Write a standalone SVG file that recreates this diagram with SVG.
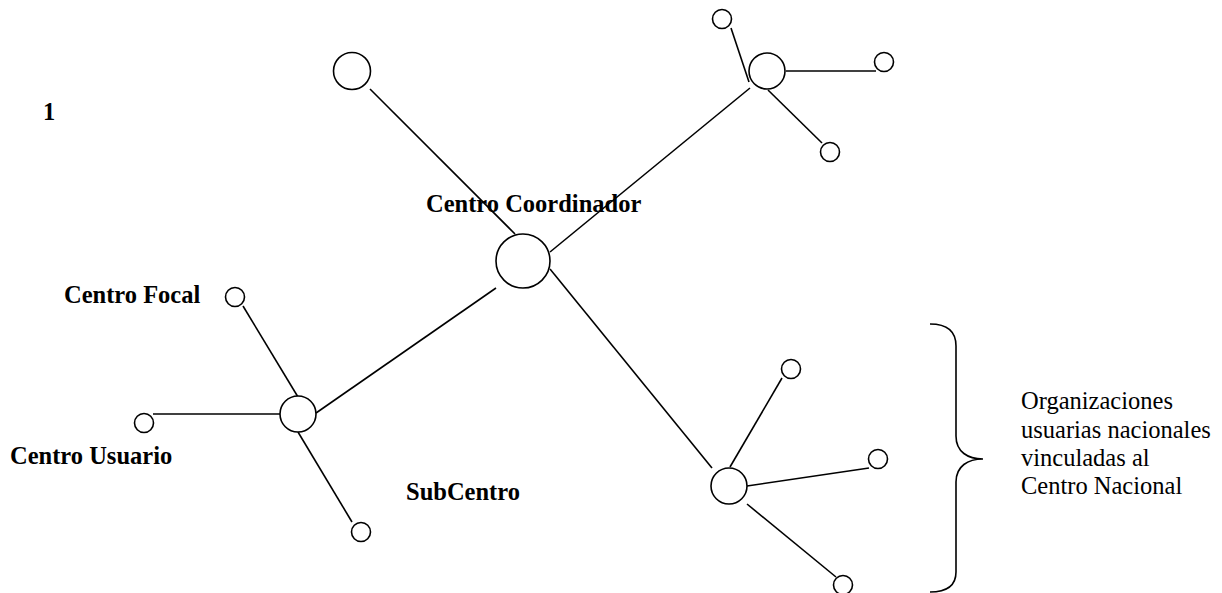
<svg xmlns="http://www.w3.org/2000/svg" width="1222" height="593" viewBox="0 0 1222 593">
<style>
.n{fill:#fff;stroke:#000;stroke-width:1.6}
.c line,.c path{stroke:#000;stroke-width:1.6;fill:none}
.b{font-family:"Liberation Serif","Times New Roman",serif;font-weight:bold;font-size:24.5px;fill:#000}
.r{font-family:"Liberation Serif","Times New Roman",serif;font-size:24.5px;fill:#000}
</style>
<rect width="1222" height="593" fill="#fff"/>
<g id="connectors" class="c">
<line x1="370" y1="89" x2="515" y2="234"/>
<line x1="550" y1="252" x2="750" y2="88"/>
<line x1="731" y1="28" x2="749" y2="82"/>
<line x1="786" y1="71" x2="876" y2="71"/>
<line x1="768" y1="90" x2="822" y2="143"/>
<line x1="316" y1="413" x2="496" y2="288"/>
<line x1="243" y1="306" x2="298" y2="397"/>
<line x1="153" y1="414" x2="280" y2="414"/>
<line x1="298" y1="432" x2="352" y2="522"/>
<line x1="550" y1="269" x2="712" y2="468"/>
<line x1="730" y1="467" x2="782" y2="378"/>
<line x1="747" y1="486" x2="869" y2="468"/>
<line x1="747" y1="504" x2="836" y2="577"/>
<path id="brace" d="M930,324 C948,324 956,332 956,346 L956,436 C956,452 968,459 983,459 C968,459 956,466 956,482 L956,572 C956,585 948,592 930,592"/>
</g>
<g id="label-1"><text class="b" x="43" y="120">1</text></g>
<g id="node-top"><circle class="n" cx="352" cy="71" r="18.5"/></g>
<g id="node-coordinador"><circle class="n" cx="523" cy="261" r="27"/><text class="b" x="426" y="212">Centro Coordinador</text></g>
<g id="node-ur-hub"><circle class="n" cx="767" cy="71" r="18"/></g>
<g id="node-ur-1"><circle class="n" cx="722" cy="19" r="9.5"/></g>
<g id="node-ur-2"><circle class="n" cx="884" cy="62" r="9.5"/></g>
<g id="node-ur-3"><circle class="n" cx="830" cy="152" r="9.5"/></g>
<g id="node-subcentro"><circle class="n" cx="298" cy="414" r="18"/><text class="b" x="406" y="500">SubCentro</text></g>
<g id="node-focal"><circle class="n" cx="235" cy="297" r="9.5"/><text class="b" x="64" y="303">Centro Focal</text></g>
<g id="node-usuario"><circle class="n" cx="144" cy="423" r="9.5"/><text class="b" x="10" y="464">Centro Usuario</text></g>
<g id="node-sw-3"><circle class="n" cx="361" cy="532" r="9.5"/></g>
<g id="node-se-hub"><circle class="n" cx="729" cy="486" r="18"/></g>
<g id="node-se-1"><circle class="n" cx="791" cy="369" r="9.5"/></g>
<g id="node-se-2"><circle class="n" cx="878" cy="459" r="9.5"/></g>
<g id="node-se-3"><circle class="n" cx="843" cy="585" r="9.5"/></g>
<g id="label-org">
<text class="r" x="1021" y="409">Organizaciones</text>
<text class="r" x="1021" y="438">usuarias nacionales</text>
<text class="r" x="1021" y="466">vinculadas al</text>
<text class="r" x="1021" y="494">Centro Nacional</text>
</g>
</svg>
